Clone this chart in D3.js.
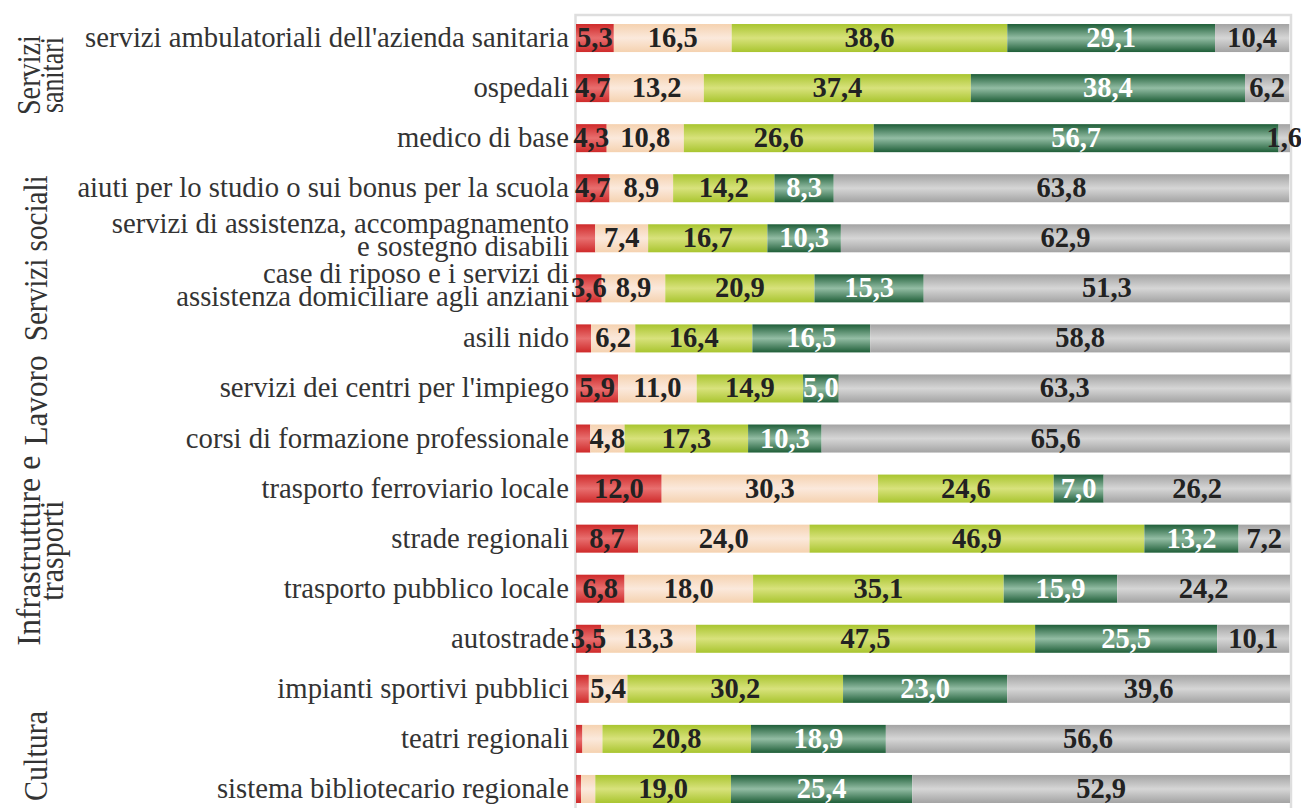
<!DOCTYPE html>
<html>
<head>
<meta charset="utf-8">
<script src="https://cdn.jsdelivr.net/npm/d3@7"></script>
<style>
  html, body { margin: 0; padding: 0; background: #fff; }
  svg { display: block; }
</style>
</head>
<body>
<div id="viz"></div>
<script>
const WIDTH = 1301;
const HEIGHT = 808;

// categories, top to bottom (lines split where the label wraps)
const categories = [
  ["servizi ambulatoriali dell'azienda sanitaria"],
  ["ospedali"],
  ["medico di base"],
  ["aiuti per lo studio o sui bonus per la scuola"],
  ["servizi di assistenza, accompagnamento", "e sostegno disabili"],
  ["case di riposo e i servizi di", "assistenza domiciliare agli anziani"],
  ["asili nido"],
  ["servizi dei centri per l'impiego"],
  ["corsi di formazione professionale"],
  ["trasporto ferroviario locale"],
  ["strade regionali"],
  ["trasporto pubblico locale"],
  ["autostrade"],
  ["impianti sportivi pubblici"],
  ["teatri regionali"],
  ["sistema bibliotecario regionale"]
];

// series values (%), one value per category
const moltoInsoddisfatto = [5.3, 4.7, 4.3, 4.7, 2.7, 3.6, 2.1, 5.9, 2.0, 12.0, 8.7, 6.8, 3.5, 1.8, 0.9, 0.7];
const pocoSoddisfatto    = [16.5, 13.2, 10.8, 8.9, 7.4, 8.9, 6.2, 11.0, 4.8, 30.3, 24.0, 18.0, 13.3, 5.4, 2.8, 2.0];
const abbastanza         = [38.6, 37.4, 26.6, 14.2, 16.7, 20.9, 16.4, 14.9, 17.3, 24.6, 46.9, 35.1, 47.5, 30.2, 20.8, 19.0];
const moltoSoddisfatto   = [29.1, 38.4, 56.7, 8.3, 10.3, 15.3, 16.5, 5.0, 10.3, 7.0, 13.2, 15.9, 25.5, 23.0, 18.9, 25.4];
const nonSaNonUsa        = [10.4, 6.2, 1.6, 63.8, 62.9, 51.3, 58.8, 63.3, 65.6, 26.2, 7.2, 24.2, 10.1, 39.6, 56.6, 52.9];

// group labels on the left: lines, first row, last row
const groupLines = [["Servizi", "sanitari"], ["Servizi sociali"], ["Lavoro"], ["Infrastrutture e", "trasporti"], ["Cultura"]];
const groupRows = [[0, 2], [3, 6], [7, 8], [9, 12], [13, 15]];

const series = [
  { key: "mi", values: moltoInsoddisfatto, edge: "#cf2a2a", mid: "#e86f6f", text: "#222", alwaysLabel: false },
  { key: "ps", values: pocoSoddisfatto, edge: "#f5d2b0", mid: "#fbe9dc", text: "#222", alwaysLabel: false },
  { key: "ab", values: abbastanza, edge: "#a9c52f", mid: "#d8e27c", text: "#222", alwaysLabel: false },
  { key: "ms", values: moltoSoddisfatto, edge: "#1f5e38", mid: "#93bda4", text: "#fff", alwaysLabel: false },
  { key: "ns", values: nonSaNonUsa, edge: "#a3a3a3", mid: "#d6d6d6", text: "#222", alwaysLabel: true }
];

const SERIF = "'Liberation Serif', 'Times New Roman', serif";
const PLOT_LEFT = 576;
const PLOT_RIGHT = 1290;

const svg = d3.select("#viz").append("svg")
  .attr("width", WIDTH)
  .attr("height", HEIGHT);

const defs = svg.append("defs");
series.forEach(s => {
  const g = defs.append("linearGradient")
    .attr("id", "grad-" + s.key)
    .attr("x1", 0).attr("y1", 0).attr("x2", 0).attr("y2", 1);
  g.append("stop").attr("offset", "0%").attr("stop-color", s.edge);
  g.append("stop").attr("offset", "50%").attr("stop-color", s.mid);
  g.append("stop").attr("offset", "100%").attr("stop-color", s.edge);
});

const x = d3.scaleLinear().domain([0, 100]).range([PLOT_LEFT, PLOT_RIGHT]);
const y = d3.scaleBand()
  .domain(d3.range(categories.length))
  .range([13, 814])
  .paddingInner(0.44)
  .paddingOuter(0.22);

// plot frame
svg.append("rect")
  .attr("x", PLOT_LEFT - 0.5)
  .attr("y", 15)
  .attr("width", PLOT_RIGHT - PLOT_LEFT + 1.5)
  .attr("height", HEIGHT)
  .attr("fill", "none")
  .attr("stroke", "#dedede")
  .attr("stroke-width", 2.5);

// stack the rows
const rows = categories.map((c, i) => {
  let acc = 0;
  return series.map(s => {
    const v = s.values[i];
    const seg = { row: i, s, v, x0: acc, x1: acc + v };
    acc += v;
    return seg;
  });
});

const barG = svg.append("g");
rows.forEach(segs => {
  barG.selectAll(null)
    .data(segs)
    .join("rect")
    .attr("x", d => x(d.x0))
    .attr("y", d => y(d.row))
    .attr("width", d => x(d.x1) - x(d.x0))
    .attr("height", y.bandwidth())
    .attr("fill", d => `url(#grad-${d.s.key})`);
});

const labelG = svg.append("g")
  .attr("font-family", SERIF)
  .attr("font-weight", "bold")
  .attr("font-size", 28.5)
  .attr("text-anchor", "middle");
rows.forEach(segs => {
  labelG.selectAll(null)
    .data(segs.filter(d => d.s.alwaysLabel || d.v >= 3))
    .join("text")
    .attr("x", d => x((d.x0 + d.x1) / 2))
    .attr("y", d => y(d.row) + y.bandwidth() / 2 + 9)
    .attr("fill", d => d.s.text)
    .text(d => d3.format(".1f")(d.v).replace(".", ","));
});

// category labels
const catG = svg.append("g")
  .attr("font-family", SERIF)
  .attr("font-size", 28.7)
  .attr("fill", "#333")
  .attr("text-anchor", "end");
categories.forEach((lines, i) => {
  const cy = y(i) + y.bandwidth() / 2;
  const t = catG.append("text").attr("x", 569);
  lines.forEach((line, j) => {
    const base = lines.length === 1 ? cy + 9 : cy - 5 + j * 23;
    t.append("tspan").attr("x", 569).attr("y", base).text(line);
  });
});

// group labels, rotated
const groupLen = { "Servizi": 80, "sanitari": 76, "Servizi sociali": 166, "Lavoro": 90, "Infrastrutture e": 190, "trasporti": 100, "Cultura": 90 };
const groupNudge = [-13, -5, -13, -13, 17];
const grpG = svg.append("g")
  .attr("font-family", SERIF)
  .attr("font-size", 33)
  .attr("fill", "#333")
  .attr("text-anchor", "middle");
groupLines.forEach((lines, gi) => {
  const [r0, r1] = groupRows[gi];
  const cy = (y(r0) + y(r1) + y.bandwidth()) / 2 + groupNudge[gi];
  lines.forEach((line, j) => {
    const bx = lines.length === 1 ? 47 : 40 + j * 23;
    grpG.append("text")
      .attr("transform", `translate(${bx},${cy}) rotate(-90)`)
      .attr("textLength", groupLen[line])
      .attr("lengthAdjust", "spacingAndGlyphs")
      .text(line);
  });
});
</script>
</body>
</html>
